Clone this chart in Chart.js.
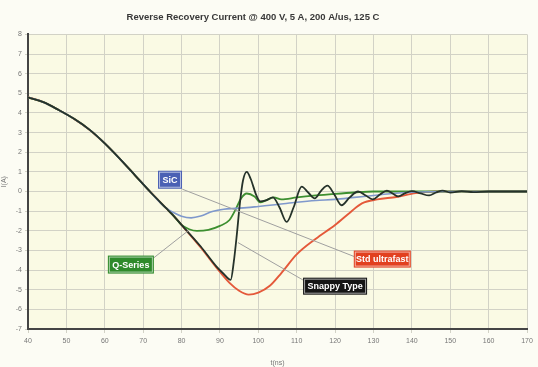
<!DOCTYPE html>
<html>
<head>
<meta charset="utf-8">
<script src="https://cdn.jsdelivr.net/npm/chart.js@4"></script>
<style>
  html, body { margin: 0; padding: 0; background: #fcfcf4; }
  #wrap { width: 538px; height: 367px; }
</style>
</head>
<body>
<div id="wrap"><canvas id="canvas" width="538" height="367"></canvas></div>
<script>
// common part of all four curves (t in ns, current in A)
const sharedT = [40, 44, 48, 52, 56, 60, 64, 68, 72, 76];
const sharedV = [4.8, 4.55, 4.15, 3.7, 3.15, 2.45, 1.65, 0.8, -0.05, -0.85];

const sicT = [78, 80, 82.5, 85, 88, 91, 94, 97, 100, 105, 110, 115, 120, 125, 130, 135, 140, 150, 160, 170];
const sicV = [-1.08, -1.26, -1.34, -1.25, -1.02, -0.9, -0.86, -0.82, -0.76, -0.66, -0.55, -0.46, -0.4, -0.3, -0.2, -0.1, -0.04, 0, 0, 0];

const stdT = [78, 80, 85, 89, 92.5, 95, 97.5, 100, 103, 106, 110, 115, 120, 124, 127, 131, 136, 141, 146, 155, 170];
const stdV = [-1.25, -1.7, -2.85, -3.85, -4.65, -5.05, -5.25, -5.15, -4.8, -4.15, -3.2, -2.4, -1.7, -1.05, -0.6, -0.4, -0.28, -0.08, 0, 0, 0];

const qT = [78, 80, 82, 84, 87, 90, 92.5, 94, 95.5, 97, 99, 100.5, 102, 104, 106, 110, 115, 120, 125, 130, 140, 170];
const qV = [-1.25, -1.7, -1.92, -2.0, -1.95, -1.75, -1.45, -0.95, -0.35, -0.1, -0.25, -0.55, -0.45, -0.3, -0.4, -0.3, -0.2, -0.12, -0.05, 0, 0, 0];

const snapT = [78, 80, 85, 89, 91, 92.8, 93.6, 94.4, 95.2, 96, 97, 98, 99.5, 100.5, 102, 103.8, 105.5, 107.4, 109.2, 111.3, 113, 114.7, 116.4, 118, 119.8, 121.7, 123.8, 126, 128, 129.8, 131.7, 133.5, 135, 136.5, 138.3, 140, 142.3, 144.5, 146.3, 148, 150, 153, 156, 160, 165, 170];
const snapV = [-1.25, -1.7, -2.8, -3.8, -4.2, -4.5, -3.6, -2.2, -0.6, 0.55, 1.0, 0.65, -0.2, -0.5, -0.45, -0.3, -0.8, -1.55, -0.8, 0.25, -0.05, -0.35, 0.05, 0.3, -0.15, -0.7, -0.3, 0.0, -0.2, -0.4, -0.15, 0.05, -0.1, -0.25, -0.08, 0.02, -0.1, -0.2, -0.05, 0.05, -0.05, 0.02, -0.03, 0, 0, 0];

const yTicks = [-7, -6, -5, -4, -3, -2, -1, 0, 1, 2, 3, 4, 5, 6, 7, 8];
const xTicks = [40, 50, 60, 70, 80, 90, 100, 110, 120, 130, 140, 150, 160, 170];

const titleText = "Reverse Recovery Current @ 400 V, 5 A, 200 A/us, 125 C";

function curve(t, v) {
  const pts = sharedT.map((x, i) => ({ x: x, y: sharedV[i] }));
  return pts.concat(t.map((x, i) => ({ x: x, y: v[i] })));
}

function line(label, t, v, color, width) {
  return {
    label: label,
    data: curve(t, v),
    borderColor: color,
    borderWidth: width,
    pointRadius: 0,
    cubicInterpolationMode: "monotone",
    fill: false,
  };
}

// label boxes: box centre and leader line given in data units
const callouts = [
  { text: "SiC", bg: "#4a60b4", at: [77, 0.6], w: 24, h: 18, from: [80.2, 0.12], to: [125.5, -3.35] },
  { text: "Q-Series", bg: "#2e8a2b", at: [66.8, -3.72], w: 46, h: 18, from: [72.8, -3.37], to: [81.7, -2.0] },
  { text: "Snappy Type", bg: "#151515", at: [120, -4.82], w: 64, h: 17, from: [111.6, -4.5], to: [94.7, -2.6] },
  { text: "Std ultrafast", bg: "#e2401f", at: [132.3, -3.44], w: 57, h: 17, from: null, to: null },
];

const plotBg = {
  id: "plotBg",
  beforeDraw(chart) {
    const { ctx, chartArea: a } = chart;
    ctx.save();
    ctx.fillStyle = "#fafae4";
    ctx.fillRect(a.left, a.top, a.right - a.left, a.bottom - a.top);
    ctx.restore();
  },
  afterDraw(chart) {
    // title sits a little left of the plot centre in the original
    const { ctx } = chart;
    ctx.save();
    ctx.fillStyle = "#383838";
    ctx.font = "bold 9.5px 'Liberation Sans', Arial, sans-serif";
    ctx.textAlign = "center";
    ctx.textBaseline = "middle";
    ctx.fillText(titleText, 253, 17);
    ctx.restore();
  },
};

const calloutPlugin = {
  id: "callouts",
  afterDatasetsDraw(chart) {
    const { ctx, scales } = chart;
    const sx = scales.x, sy = scales.y;
    ctx.save();
    callouts.forEach((c) => {
      if (c.from) {
        ctx.strokeStyle = "#a0a0a0";
        ctx.lineWidth = 1;
        ctx.beginPath();
        ctx.moveTo(sx.getPixelForValue(c.from[0]), sy.getPixelForValue(c.from[1]));
        ctx.lineTo(sx.getPixelForValue(c.to[0]), sy.getPixelForValue(c.to[1]));
        ctx.stroke();
      }
    });
    callouts.forEach((c) => {
      const cx = sx.getPixelForValue(c.at[0]);
      const cy = sy.getPixelForValue(c.at[1]);
      ctx.fillStyle = c.bg;
      ctx.fillRect(cx - c.w / 2, cy - c.h / 2, c.w, c.h);
      ctx.strokeStyle = "rgba(255,255,255,0.6)";
      ctx.lineWidth = 1;
      ctx.strokeRect(cx - c.w / 2 + 1.5, cy - c.h / 2 + 1.5, c.w - 3, c.h - 3);
      ctx.fillStyle = "#ffffff";
      ctx.font = "bold 9px 'Liberation Sans Narrow', 'Liberation Sans', Arial, sans-serif";
      ctx.textAlign = "center";
      ctx.textBaseline = "middle";
      ctx.fillText(c.text, cx, cy + 0.5);
    });
    ctx.restore();
  },
};

const config = {
  type: "line",
  data: {
    datasets: [
      line("Snappy Type", snapT, snapV, "#25322a", 1.8),
      line("SiC", sicT, sicV, "#7f98cc", 1.6),
      line("Q-Series", qT, qV, "#3d8f30", 1.8),
      line("Std ultrafast", stdT, stdV, "#e4593a", 1.9),
    ],
  },
  options: {
    responsive: false,
    animation: false,
    layout: { padding: { left: 0, right: 11, top: 0, bottom: 0 } },
    plugins: {
      legend: { display: false },
      tooltip: { enabled: false },
      title: {
        // reserves the space; the text itself is drawn by plotBg.afterDraw
        display: true,
        text: titleText,
        color: "rgba(0,0,0,0)",
        font: { family: "'Liberation Sans', Arial, sans-serif", size: 9.5, weight: "bold" },
        padding: { top: 12, bottom: 11 },
      },
    },
    scales: {
      x: {
        type: "linear",
        min: 40,
        max: 170,
        afterBuildTicks(axis) { axis.ticks = xTicks.map((v) => ({ value: v })); },
        afterFit(axis) { axis.height = 38; },
        ticks: { color: "#777", font: { size: 7, family: "'Liberation Sans', Arial" }, padding: 4, maxRotation: 0 },
        grid: { color: "#d2d2c6", lineWidth: 1, tickLength: 4 },
        border: { color: "#444", width: 2 },
        title: { display: true, text: "t(ns)", color: "#777", font: { size: 7, family: "'Liberation Sans', Arial" }, padding: { top: 2, bottom: 0 } },
      },
      y: {
        min: -7,
        max: 8,
        afterBuildTicks(axis) { axis.ticks = yTicks.map((v) => ({ value: v })); },
        afterFit(axis) { axis.width = 28; },
        ticks: { color: "#777", font: { size: 7, family: "'Liberation Sans', Arial" }, padding: 3 },
        grid: { color: "#d2d2c6", lineWidth: 1, tickLength: 3 },
        border: { color: "#444", width: 2 },
        title: { display: true, text: "I(A)", color: "#777", font: { size: 7, family: "'Liberation Sans', Arial" }, padding: { top: 0, bottom: 4 } },
      },
    },
  },
  plugins: [plotBg, calloutPlugin],
};

const canvas = document.getElementById("canvas");
const chart = new Chart(canvas, config);
</script>
</body>
</html>
